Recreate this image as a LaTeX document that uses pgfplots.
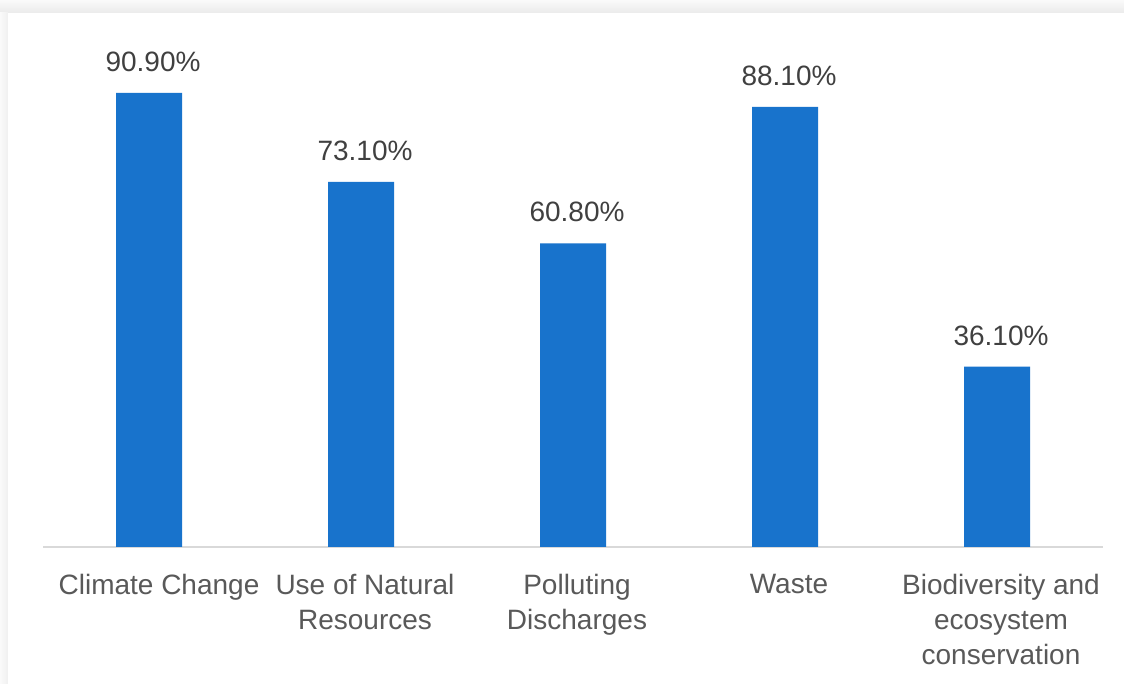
\documentclass[border=0pt]{standalone}
\usepackage{fontspec}
\setmainfont{Liberation Sans}
\usepackage{pgfplots}
\pgfplotsset{compat=1.18}

\definecolor{barblue}{RGB}{24,115,204}
\definecolor{valgray}{RGB}{64,64,64}
\definecolor{catgray}{RGB}{89,89,89}
\definecolor{axisgray}{RGB}{217,217,217}

\begin{document}
\begin{tikzpicture}
  % page frame: grey surround with a soft shadow above the white card
  \useasboundingbox (0pt,0pt) rectangle (562pt,342pt);
  \fill[gray!9] (0pt,0pt) rectangle (562pt,342pt);
  \shade[top color=gray!4, bottom color=gray!16] (0pt,335.5pt) rectangle (562pt,342pt);
  \shade[left color=gray!4, right color=gray!12] (0pt,0pt) rectangle (4pt,335.5pt);
  \fill[white] (4pt,0pt) rectangle (562pt,335.5pt);

  \begin{axis}[
    at={(21.5pt,68.5pt)}, anchor=south west,
    scale only axis,
    width=530pt, height=267pt,
    xmin=-0.5, xmax=4.5,
    ymin=0, ymax=106.9,
    axis y line=none,
    axis x line*=bottom,
    x axis line style={axisgray, line width=1pt, -},
    xtick=data,
    major tick length=0pt,
    xticklabels={\hspace*{6pt}Climate Change, {Use of Natural\\Resources}, {Polluting\\Discharges}, Waste, {Biodiversity and\\ecosystem\\conservation}},
    xticklabel style={align=center, font=\fontsize{14}{17.5}\selectfont, text=catgray, yshift=-10pt, xshift=2pt},
    ybar,
    bar width=33pt,
    clip=false,
    nodes near coords={\pgfmathprintnumber[fixed,fixed zerofill,precision=2,assume math mode=true]{\pgfplotspointmeta}\%},
    nodes near coords style={font=\fontsize{14}{16}\selectfont, text=valgray, yshift=7pt, xshift=2pt},
  ]
    \addplot[fill=barblue, draw=none] coordinates {
      (0,90.9) (1,73.1) (2,60.8) (3,88.1) (4,36.1)
    };
  \end{axis}
\end{tikzpicture}
\end{document}
